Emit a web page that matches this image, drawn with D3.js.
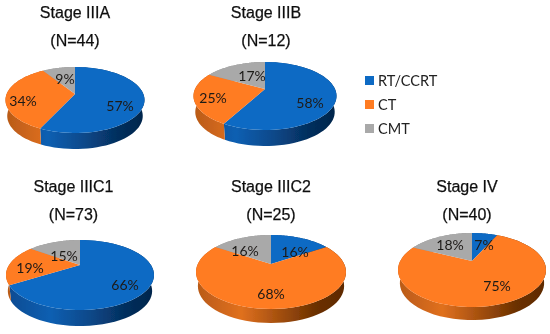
<!DOCTYPE html>
<html><head><meta charset="utf-8">
<script src="https://cdn.jsdelivr.net/npm/d3@7/dist/d3.min.js"></script>
<style>html,body{margin:0;padding:0;background:#fff}svg{display:block}</style>
</head><body><svg id="c" width="550" height="334"></svg>
<script>
const categories = ["RT/CCRT","CT","CMT"];
const stages = ["Stage IIIA","Stage IIIB","Stage IIIC1","Stage IIIC2","Stage IV"];
const counts = ["(N=44)","(N=12)","(N=73)","(N=25)","(N=40)"];
const rtValues = [57,58,66,16,7];
const ctValues = [34,25,19,68,75];
const cmtValues = [9,17,15,16,18];
const colors = ["#0f6bc4","#ff7b22","#a9a9a9"];
const gradientStops = [0,.3,.55,.8,1];
const sideColors = [
  ["#0a4a90","#0c5fb2","#0a4a8c","#052f5e","#02264b"],
  ["#b85a18","#e0701f","#a5500f","#6b3000","#5e2a00"],
  ["#888888","#999999","#777777","#5c5c5c","#505050"]
];

// geometry of each panel (separate from data)
const panels = [
 {cx:75,  left:6,  right:145, top:67,  apex:94,  bottom:133, depth:16, tx:75,  t1:18, t2:46, lab:[[45,12],[-52,7],[-10,-15]]},
 {cx:265, left:193,right:336, top:62,  apex:89,  bottom:130, depth:16, tx:266, t1:18, t2:46, lab:[[45,14],[-52,9],[-13,-13]]},
 {cx:80,  left:6,  right:154, top:240, apex:265, bottom:310, depth:16, tx:73.5,t1:192,t2:220,lab:[[45,20],[-50,3],[-16,-9]]},
 {cx:271, left:196,right:346, top:235, apex:264, bottom:309, depth:14, tx:271, t1:192,t2:220,lab:[[24,-12],[0,30],[-26,-13]]},
 {cx:472, left:398,right:546, top:233, apex:261, bottom:307, depth:13, tx:467, t1:192,t2:220,lab:[[12,-16],[25,25],[-22,-16]]}
];

const svg = d3.select("#c");
const defs = svg.append("defs");
defs.append("filter").attr("id","soft").attr("x","0").attr("y","0").attr("width","1").attr("height","1")
  .attr("filterUnits","objectBoundingBox")
  .append("feGaussianBlur").attr("stdDeviation",0.35);
const root = svg.append("g").attr("filter","url(#soft)");
root.append("rect").attr("width",550).attr("height",334).attr("fill","#fff");
const color = d3.scaleOrdinal().domain(categories).range(colors);
const pie = d3.pie().sort(null).value(d=>d);
const line = d3.line();

panels.forEach((p,i)=>{
  const values=[rtValues[i],ctValues[i],cmtValues[i]];
  const up=p.apex-p.top, down=p.bottom-p.apex;
  const k=(down-up)/(down+up), A=up*(1+k);
  const rx=(p.right-p.left)/2, B=rx*Math.sqrt(1-k*k);
  const proj=(a,r=1)=>{const u=r*Math.sin(a),v=-r*Math.cos(a),s=1/(1-k*v);return [p.cx+B*u*s,p.apex+A*v*s];};
  const g=root.append("g");
  const arcs=pie(values);
  const samples=a=>d3.range(0,61).map(t=>a.startAngle+(a.endAngle-a.startAngle)*t/60);
  arcs.forEach((a,j)=>{
    const id=`s${i}_${j}`;
    const gr=defs.append("linearGradient").attr("id",id).attr("gradientUnits","userSpaceOnUse")
      .attr("x1",p.left).attr("x2",p.right).attr("y1",0).attr("y2",0);
    gradientStops.forEach((o,c)=>gr.append("stop").attr("offset",o).attr("stop-color",sideColors[j][c]));
    const top=samples(a).map(t=>proj(t));
    const bot=top.slice().reverse().map(([x,y])=>[p.cx+(x-p.cx)*0.975,y+p.depth]);
    g.append("path").attr("d",line(top.concat(bot))+"Z").attr("fill",`url(#${id})`);
  });
  arcs.forEach((a,j)=>{
    const pts=[[p.cx,p.apex]].concat(samples(a).map(t=>proj(t)));
    g.append("path").attr("d",line(pts)+"Z").attr("fill",color(categories[j]));
  });
  arcs.forEach((a,j)=>{
    g.append("text").attr("x",p.cx+p.lab[j][0]).attr("y",p.apex+p.lab[j][1]).attr("dy","0.35em")
      .attr("text-anchor","middle").attr("font-family","Lato, sans-serif").attr("font-size",14)
      .attr("fill","#1d1a18").text(values[j]+"%");
  });
  [[stages[i],p.t1],[counts[i],p.t2]].forEach(([s,y])=>{
    root.append("text").attr("x",p.tx).attr("y",y).attr("text-anchor","middle")
      .attr("font-family","'Liberation Sans', Arial, sans-serif").attr("font-size",16)
      .attr("fill","#111").attr("stroke","#111").attr("stroke-width",0.25).text(s);
  });
});

const legendY = d3.scalePoint().domain(categories).range([80.5,128.5]);
categories.forEach((c,j)=>{
  root.append("rect").attr("x",365).attr("y",legendY(c)-4.5).attr("width",9).attr("height",9).attr("fill",color(c));
  root.append("text").attr("x",378).attr("y",legendY(c)+0.5).attr("dy","0.35em")
    .attr("font-family","Lato, sans-serif").attr("font-size",14.5).attr("fill","#222").text(c);
});
</script></body></html>
